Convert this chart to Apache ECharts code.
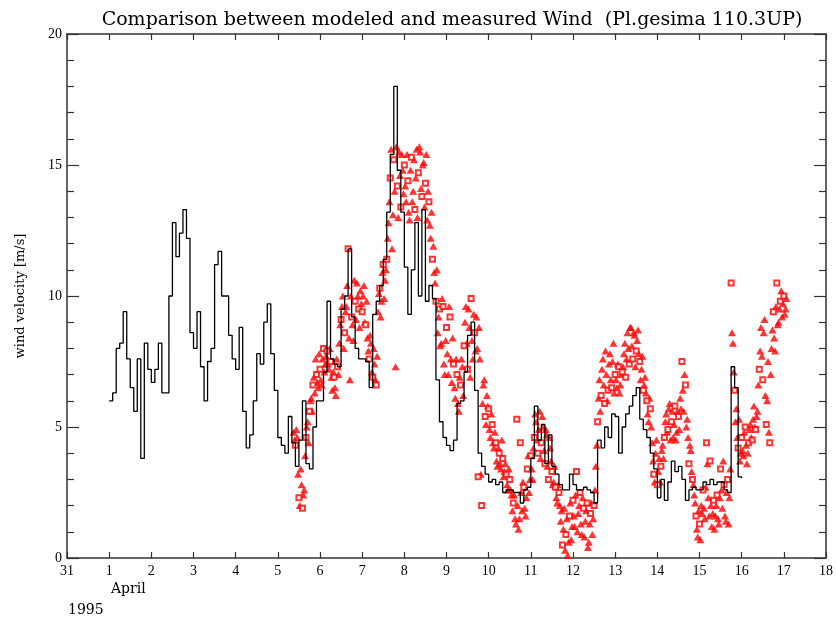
<!DOCTYPE html>
<html><head><meta charset="utf-8">
<script src="https://cdn.jsdelivr.net/npm/echarts@6/dist/echarts.min.js"></script>
<style>html,body{margin:0;padding:0;background:#fff}#c{width:836px;height:628px}</style>
</head><body><div id="c"></div>
<script>
const titleText = 'Comparison between modeled and measured Wind  (Pl.gesima 110.3UP)';
const yAxisName = 'wind velocity [m/s]';
const monthLabel = 'April';
const yearLabel = '1995';
// x axis: days since 31 March 1995 (0 = Mar 31, 1 = Apr 1, ... 18 = Apr 18)
const xTickLabels = ['31','1','2','3','4','5','6','7','8','9','10','11','12','13','14','15','16','17','18'];
const yTicks = [0, 5, 10, 15, 20];

// modeled wind, 2-hourly steps starting Apr 1 00:00
const modelStart = 1.0;
const modelStep = 1 / 12;
const modeled = [
  6.0, 6.3, 8.0, 8.2, 9.4, 7.6, 6.5, 5.6, 7.6, 3.8, 8.2, 7.2,
  6.7, 7.2, 8.2, 6.3, 6.3, 10.0, 12.8, 11.5, 12.4, 13.3, 12.2, 8.6,
  8.0, 9.4, 7.3, 6.0, 7.5, 8.0, 11.2, 11.7, 10.0, 10.0, 8.5, 7.6,
  7.2, 8.8, 5.6, 4.2, 4.7, 6.0, 7.8, 7.4, 9.0, 9.7, 7.8, 6.4,
  4.6, 4.3, 4.0, 5.4, 4.4, 3.5, 4.5, 6.0, 3.6, 3.4, 5.0, 6.0,
  6.0, 7.1, 9.8, 7.6, 7.4, 7.3, 9.5, 10.0, 11.8, 9.2, 8.0, 7.6,
  7.6, 7.5, 6.5, 9.3, 9.8, 10.4, 11.4, 13.2, 15.4, 18.0, 14.8, 13.2,
  11.1, 9.3, 11.0, 12.8, 10.0, 13.3, 9.8, 10.4, 9.9, 6.8, 5.2, 4.6,
  4.3, 4.1, 4.5, 5.9, 6.0, 7.1, 8.5, 9.0, 6.4, 4.0, 3.5, 3.2,
  2.9, 3.0, 2.8, 2.9, 2.5, 2.6, 2.6, 2.5, 2.5, 2.1, 2.6, 2.7,
  3.8, 5.8, 4.5, 5.1, 3.6, 4.7, 3.5, 3.2, 2.8, 2.6, 2.6, 3.2,
  2.8, 2.6, 2.6, 2.7, 2.6, 2.5, 2.1, 4.5, 4.2, 5.0, 4.6, 5.5,
  5.4, 4.0, 5.0, 5.5, 5.8, 6.2, 6.5, 5.3, 4.9, 4.6, 4.0, 3.4,
  2.3, 3.0, 2.2, 2.9, 3.7, 3.3, 3.5, 3.0, 2.2, 2.6, 2.7, 2.6,
  2.6, 2.9, 2.8, 3.0, 2.8, 2.9, 2.9, 2.6, 2.5, 7.3, 6.5, 3.1,
  3.05
];

// measured wind, hourly on the hour, starting Apr 5 09:00
const measStart = 5.375;
const measStep = 1 / 24;
const measured = [
  4.8, 4.3, 4.6, 2.3, 3.4, 1.9, 2.6, 4.6, 5.2, 5.6, 6.1, 6.6, 6.3, 7.0, 6.5,
  7.2, 6.6, 8.0, 7.4, 7.9, 7.2, 7.5, 6.4, 6.9, 6.2, 7.3, 8.2, 9.1, 10.0, 8.6, 9.6, 11.8, 6.8, 9.2, 8.3, 9.8, 10.5, 9.5, 10.2,
  9.4, 10.4, 8.9, 8.4, 7.6, 8.2, 6.9, 7.4, 6.6, 9.4, 10.3, 9.8, 11.2, 10.6, 11.4, 12.8, 14.5, 11.8, 15.2, 7.3, 14.2, 15.5, 13.4, 14.8,
  15.0, 13.6, 14.4, 12.9, 15.3, 14.0, 13.3, 15.6, 14.7, 15.5, 13.8, 15.1, 14.3, 12.9, 13.6, 12.2, 11.4, 10.9, 9.8, 8.6, 9.5, 8.2, 9.6, 7.0,
  8.8, 7.0, 9.2, 6.7, 7.4, 6.1, 7.0, 5.6, 6.6, 7.3, 8.1, 9.6, 7.2, 8.8, 9.9, 7.6, 8.6, 9.2, 3.1, 7.6, 2.0, 6.6, 5.4, 6.2,
  5.7, 4.6, 5.1, 4.2, 4.4, 3.5, 4.0, 3.4, 3.8, 3.3, 3.2, 2.6, 3.0, 2.4, 2.1, 1.5, 5.3, 1.1, 4.4, 1.8, 2.7, 1.6, 3.4, 2.5,
  3.9, 3.0, 4.6, 5.2, 4.0, 5.6, 4.4, 5.0, 3.6, 4.7, 3.0, 4.2, 3.3, 2.9, 2.7, 2.1, 2.5, 1.4, 0.5, 1.9, 0.9, 0.1, 1.6, 0.7,
  2.2, 1.2, 3.3, 1.7, 2.5, 0.9, 1.9, 1.4, 2.1, 0.6, 1.7, 0.9, 2.0, 3.5, 5.2, 6.8, 6.2, 7.6, 5.9, 7.0, 6.4, 7.8, 6.5, 8.2,
  7.0, 6.5, 7.3, 6.6, 7.1, 7.8, 6.9, 8.6, 7.4, 8.8, 7.6, 8.5, 7.9, 8.7, 7.5, 7.2, 6.4, 6.9, 6.0, 5.2, 5.7, 4.4, 3.2, 4.0,
  2.8, 3.8, 3.5, 4.3, 4.6, 5.5, 4.9, 5.9, 5.2, 4.6, 5.8, 4.8, 5.4, 6.1, 7.5, 5.6, 6.6, 5.3, 3.6, 4.1, 3.0, 2.4, 1.6, 0.8,
  1.3, 2.0, 2.6, 1.5, 4.4, 2.3, 3.7, 1.2, 2.2, 1.6, 2.4, 1.3, 3.4, 1.9, 2.8, 1.4, 3.0, 2.3, 10.5, 8.2, 6.4, 5.7, 4.2, 3.7,
  4.6, 3.9, 5.0, 3.6, 4.4, 5.1, 4.5, 5.8, 4.9, 5.6, 7.2, 8.8, 6.8, 9.1, 5.1, 7.5, 4.4, 8.0, 9.4, 7.9, 10.5, 9.0, 9.8, 9.2,
  10.0, 9.5
];

// measured wind, hourly at half past, starting Apr 5 09:30
const measHalfStart = 5.375 + 1 / 48;
const measuredHalf = [
  4.5, 4.9, 3.2, 2.0, 2.8, 2.4, 3.9, 5.0, 4.4, 6.0, 5.6, 6.9, 7.6, 6.7, 7.8,
  6.8, 7.6, 7.1, 7.7, 7.4, 8.0, 6.9, 7.1, 6.5, 7.6, 7.0, 8.9, 9.6, 8.0, 9.4, 10.4, 8.4, 10.0, 8.9, 10.6, 9.1, 10.0, 8.8, 9.7,
  10.0, 9.0, 9.8, 7.9, 8.5, 7.1, 8.0, 6.8, 7.7, 10.1, 9.2, 10.9, 9.9, 11.0, 12.2, 13.6, 15.6, 13.1, 14.0, 15.7, 13.0, 14.6, 15.4, 13.9,
  14.2, 15.4, 13.2, 14.8, 13.6, 15.2, 14.5, 13.0, 15.7, 14.1, 15.0, 13.4, 15.4, 14.0, 12.7, 13.2, 11.9, 10.5, 11.0, 9.2, 8.1, 9.9, 7.4, 8.3,
  7.8, 9.6, 7.6, 8.4, 6.5, 7.6, 5.9, 6.9, 7.6, 6.2, 9.0, 8.2, 9.5, 6.9, 8.3, 9.3, 7.9, 8.0, 8.8, 3.2, 5.9, 6.8, 5.1, 5.8,
  4.9, 5.5, 4.4, 4.8, 3.7, 4.2, 3.6, 4.5, 3.1, 3.6, 2.8, 3.4, 2.6, 1.8, 2.4, 1.3, 2.0, 1.5, 2.5, 2.9, 1.9, 2.3, 3.9, 3.0,
  3.4, 4.2, 5.5, 4.5, 4.9, 3.8, 5.4, 4.1, 4.9, 3.5, 4.6, 3.7, 2.8, 3.5, 2.3, 2.8, 2.0, 1.8, 1.1, 0.3, 1.5, 0.6, 2.1, 1.2,
  1.6, 2.4, 1.0, 2.0, 1.3, 2.3, 0.8, 1.8, 0.4, 1.3, 2.1, 1.5, 2.6, 4.3, 6.1, 5.6, 7.2, 6.6, 7.9, 6.0, 7.4, 6.8, 7.5, 6.3,
  6.8, 7.4, 6.3, 7.0, 7.3, 8.2, 7.6, 8.0, 8.8, 8.1, 8.6, 7.3, 8.3, 7.8, 6.8, 7.7, 6.6, 6.3, 5.5, 6.1, 5.0, 3.7, 2.9, 4.5,
  3.3, 2.9, 4.1, 3.8, 5.2, 4.8, 5.7, 4.5, 5.6, 5.1, 4.5, 5.6, 4.9, 5.7, 6.4, 7.0, 5.0, 4.6, 4.3, 3.3, 2.8, 2.1, 1.1, 1.8,
  0.7, 1.7, 1.9, 2.7, 3.6, 1.6, 2.0, 1.7, 1.1, 2.0, 1.5, 2.3, 2.6, 3.7, 1.6, 2.5, 1.3, 3.4, 8.6, 7.1, 5.2, 4.6, 5.3, 4.0,
  4.1, 4.8, 4.3, 4.0, 4.9, 4.6, 5.3, 5.0, 5.4, 6.6, 7.9, 7.7, 8.6, 6.2, 6.0, 4.8, 7.0, 8.7, 8.4, 9.6, 8.9, 9.5, 10.2, 9.7,
  9.3, 9.9
];

const modelData = modeled.map((v, i) => [modelStart + i * modelStep, v]);
const triData = [], boxData = [];
measured.forEach((v, i) => {
  const p = [measStart + i * measStep, v];
  if (i % 2 === 0) triData.push(p); else boxData.push(p);
});
measuredHalf.forEach((v, i) => { triData.push([measHalfStart + i * measStep, v]); });

const FONT = 'Liberation Serif';
const WIDE = 'DejaVu Serif';
const axisColor = '#333';
const baseX = {
  type: 'value', min: 0, max: 18, interval: 1,
  axisLine: { show: true, onZero: false, lineStyle: { color: axisColor, width: 1.5 } },
  axisTick: { show: true, inside: true, length: 6, lineStyle: { color: axisColor, width: 1.2 } },
  splitLine: { show: false }
};
const baseY = {
  type: 'value', min: 0, max: 20, interval: 5,
  axisLine: { show: true, onZero: false, lineStyle: { color: axisColor, width: 1.5 } },
  axisTick: { show: true, inside: true, length: 12, lineStyle: { color: axisColor, width: 1.2 } },
  minorTick: { show: true, splitNumber: 5, length: 7, lineStyle: { color: axisColor, width: 1.2 } },
  splitLine: { show: false }, minorSplitLine: { show: false }
};

const chart = echarts.init(document.getElementById('c'), null, { renderer: 'canvas' });
chart.setOption({
  animation: false,
  backgroundColor: '#fff',
  title: {
    text: titleText, left: 447, top: 6, textAlign: 'center',
    textStyle: { fontFamily: WIDE, fontSize: 19, fontWeight: 'normal', color: '#000' }
  },
  grid: { left: 67, right: 9, top: 34, bottom: 70 },
  xAxis: [
    Object.assign({}, baseX, {
      position: 'bottom',
      axisLabel: { show: true, margin: 6, fontFamily: FONT, fontSize: 14, color: '#000',
        formatter: v => xTickLabels[Math.round(v)] }
    }),
    Object.assign({}, baseX, { position: 'top', axisLabel: { show: false } })
  ],
  yAxis: [
    Object.assign({}, baseY, {
      position: 'left',
      name: yAxisName, nameLocation: 'middle', nameGap: 40, nameRotate: 90,
      nameTextStyle: { fontFamily: WIDE, fontSize: 13, color: '#000' },
      axisLabel: { show: true, margin: 5, fontFamily: FONT, fontSize: 14, color: '#000',
        formatter: v => (yTicks.indexOf(v) >= 0 ? String(v) : '') }
    }),
    Object.assign({}, baseY, { position: 'right', axisLabel: { show: false } })
  ],
  graphic: [
    { type: 'text', left: 111, top: 582, style: { text: monthLabel, fontFamily: WIDE, fontSize: 14, fill: '#000' } },
    { type: 'text', left: 68, top: 603, style: { text: yearLabel, fontFamily: WIDE, fontSize: 14, fill: '#000' } }
  ],
  series: [
    { type: 'scatter', xAxisIndex: 0, yAxisIndex: 0, data: triData, symbol: 'triangle', symbolSize: [8, 7],
      itemStyle: { color: '#ff0000' }, z: 2 },
    { type: 'scatter', xAxisIndex: 0, yAxisIndex: 0, data: boxData, symbol: 'emptyRect', symbolSize: 5,
      itemStyle: { color: '#ff0000', borderColor: '#ff0000', borderWidth: 1.5 }, z: 2 },
    { type: 'line', xAxisIndex: 0, yAxisIndex: 0, data: modelData, step: 'end', showSymbol: false,
      symbol: 'none', lineStyle: { color: '#000', width: 1.3 }, z: 3 }
  ]
});
</script>
</body></html>
